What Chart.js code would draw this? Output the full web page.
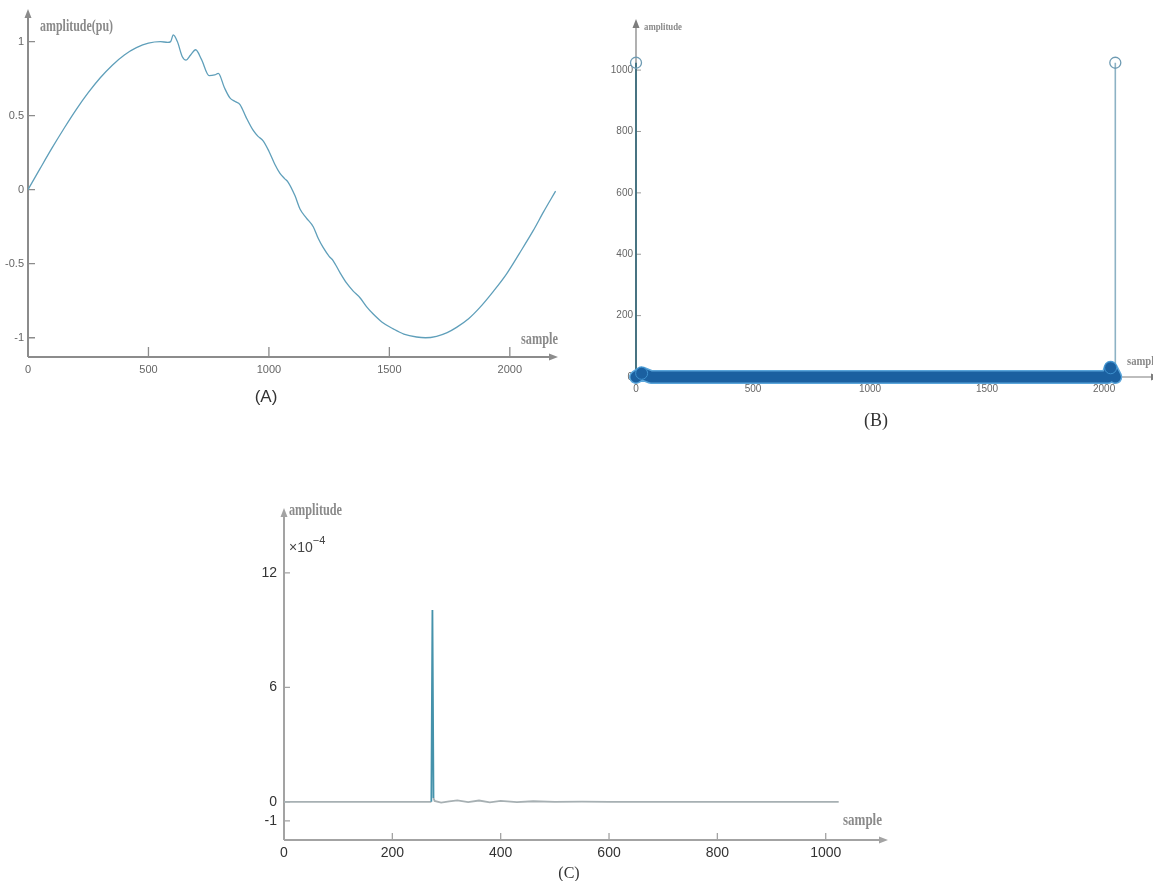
<!doctype html>
<html lang="en">
<head>
<meta charset="utf-8" />
<title>Signal, FFT and spectrum</title>
<script src="https://cdn.jsdelivr.net/npm/chart.js"></script>
<style>
  * { box-sizing: border-box; }
  html, body { margin: 0; background: #fff; }
  .page { position: relative; width: 1153px; height: 881px; overflow: hidden; background: #fff; }
  canvas { position: absolute; }
  .cap { position: absolute; color: #333; transform: translate(-50%, -50%); white-space: nowrap; }
  #capA { left: 266px; top: 397px; font: 17px 'Liberation Sans Narrow', 'Liberation Sans', Arial, sans-serif; }
  #capB { left: 876px; top: 420px; font: 18px 'Liberation Serif', 'DejaVu Serif', serif; }
  #capC { left: 569px; top: 873px; font: 16px 'Liberation Serif', 'DejaVu Serif', serif; }
  #expC { position: absolute; left: 289px; top: 536px; font: 14px 'Liberation Sans', Arial, sans-serif; color: #444; }
  #expC sup { font-size: 11px; position: relative; top: -2px; }
</style>
</head>
<body>
<div class="page">
  <canvas id="chartA" width="590" height="420" style="left:0;top:0;width:590px;height:420px"></canvas>
  <canvas id="chartB" width="563" height="430" style="left:590px;top:0;width:563px;height:430px"></canvas>
  <canvas id="chartC" width="680" height="400" style="left:240px;top:480px;width:680px;height:400px"></canvas>
  <div class="cap" id="capA">(A)</div>
  <div class="cap" id="capB">(B)</div>
  <div class="cap" id="capC">(C)</div>
  <div id="expC">&times;10<sup>&minus;4</sup></div>
</div>
<script>
// (A) disturbed sine, amplitude in pu
const aX = [0, 50, 100, 150, 200, 250, 300, 350, 400, 450, 500, 550,
  580, 592, 603, 620, 640, 656, 675, 696, 720, 752,
  775, 790, 815, 838, 860, 880, 905, 935, 955, 976,
  1000, 1025, 1046, 1065, 1080, 1108, 1129, 1155, 1184, 1205,
  1225, 1250, 1267, 1295, 1322, 1350, 1378, 1405, 1433, 1470,
  1516, 1560, 1613, 1650, 1696, 1740, 1779, 1830, 1876, 1930,
  1986, 2040, 2097, 2140, 2190];
const aY = [0, 0.142, 0.282, 0.415, 0.541, 0.655, 0.756, 0.841, 0.910, 0.959, 0.990, 1.0,
  0.995, 1.0, 1.045, 1.0, 0.9, 0.875, 0.91, 0.945, 0.88, 0.77,
  0.775, 0.785, 0.69, 0.62, 0.595, 0.575, 0.49, 0.40, 0.36, 0.33,
  0.26, 0.17, 0.11, 0.075, 0.05, -0.04, -0.13, -0.19, -0.25, -0.33,
  -0.39, -0.45, -0.48, -0.56, -0.63, -0.685, -0.73, -0.79, -0.84, -0.895,
  -0.94, -0.975, -0.995, -1.0, -0.99, -0.965, -0.93, -0.87, -0.795, -0.69,
  -0.57, -0.43, -0.277, -0.15, -0.01];
const aTicksX = [0, 500, 1000, 1500, 2000];
const aTicksY = [-1, -0.5, 0, 0.5, 1];

// (B) FFT stems: two large bins and a band of near-zero bins
const bStemX = [0, 2048];
const bStemY = [1024, 1024];
const bBandX = [0, 24, 64, 96, 128, 160, 192, 224, 256, 288, 320, 352, 384, 416, 448, 480,
  512, 544, 576, 608, 640, 672, 704, 736, 768, 800, 832, 864, 896, 928, 960, 992,
  1024, 1056, 1088, 1120, 1152, 1184, 1216, 1248, 1280, 1312, 1344, 1376, 1408, 1440, 1472, 1504,
  1536, 1568, 1600, 1632, 1664, 1696, 1728, 1760, 1792, 1824, 1856, 1888, 1920, 1952, 1984, 2016,
  2028, 2048];
const bBandY = [0, 12, 0, 0, 0, 0, 0, 0, 0, 0, 0, 0, 0, 0, 0, 0,
  0, 0, 0, 0, 0, 0, 0, 0, 0, 0, 0, 0, 0, 0, 0, 0,
  0, 0, 0, 0, 0, 0, 0, 0, 0, 0, 0, 0, 0, 0, 0, 0,
  0, 0, 0, 0, 0, 0, 0, 0, 0, 0, 0, 0, 0, 0, 0, 0,
  30, 0];
const bTicksX = [0, 500, 1000, 1500, 2000];
const bTicksY = [0, 200, 400, 600, 800, 1000];

// (C) spectrum detail, values in units of 1e-4
const cX = [0, 272, 274, 276, 278, 290, 305, 320, 340, 360, 380, 400, 430, 460, 500, 550, 600, 700, 800, 900, 1024];
const cY = [0, 0, 10.05, 0.2, 0.05, -0.04, 0.02, 0.08, -0.02, 0.07, -0.03, 0.05, -0.02, 0.03, 0, 0.01, 0, 0, 0, 0, 0];
const cTicksX = [0, 200, 400, 600, 800, 1000];
const cTicksY = [-1, 0, 6, 12];

const pts = (xs, ys) => xs.map((x, i) => ({ x, y: ys[i] }));

// axis lines with arrows and inward tick marks, plus axis names
const axesPlugin = {
  id: 'axes',
  beforeDatasetsDraw(chart, args, o) {
    const { ctx, chartArea: a, scales: { x, y } } = chart;
    ctx.save();
    ctx.strokeStyle = o.color;
    ctx.fillStyle = o.color;
    ctx.lineWidth = o.width;
    ctx.beginPath();
    ctx.moveTo(a.left, a.bottom);
    ctx.lineTo(a.left, o.yTip + 6);
    ctx.moveTo(a.left, a.bottom);
    ctx.lineTo(o.xTip - 6, a.bottom);
    ctx.stroke();
    ctx.beginPath();
    ctx.moveTo(a.left, o.yTip);
    ctx.lineTo(a.left - 3.5, o.yTip + 9);
    ctx.lineTo(a.left + 3.5, o.yTip + 9);
    ctx.closePath();
    ctx.moveTo(o.xTip, a.bottom);
    ctx.lineTo(o.xTip - 9, a.bottom - 3.5);
    ctx.lineTo(o.xTip - 9, a.bottom + 3.5);
    ctx.closePath();
    ctx.fill();
    ctx.lineWidth = o.tickWidth;
    ctx.strokeStyle = o.tickColor;
    ctx.beginPath();
    x.ticks.forEach(t => {
      if (t.value === 0) return;
      const px = x.getPixelForValue(t.value);
      ctx.moveTo(px, a.bottom);
      ctx.lineTo(px, a.bottom - o.tickLenX);
    });
    y.ticks.forEach(t => {
      const py = y.getPixelForValue(t.value);
      if (Math.abs(py - a.bottom) < 2) return;
      ctx.moveTo(a.left, py);
      ctx.lineTo(a.left + o.tickLenY, py);
    });
    ctx.stroke();
    ctx.restore();
  },
  afterDraw(chart, args, o) {
    const { ctx } = chart;
    ctx.save();
    ctx.fillStyle = o.labelColor;
    ctx.textBaseline = 'middle';
    ctx.textAlign = 'left';
    o.labels.forEach(l => {
      ctx.font = l.font;
      const w = ctx.measureText(l.text).width;
      const sx = l.width ? l.width / w : 1;
      ctx.save();
      ctx.translate(l.x, l.y);
      ctx.scale(sx, 1);
      ctx.fillText(l.text, 0, 0);
      ctx.restore();
    });
    ctx.restore();
  }
};

const serif = "bold 16px 'Liberation Serif', 'DejaVu Serif', serif";

function fixedScale(ticks, min, max, font, color, pad, size, isY) {
  return {
    type: 'linear',
    min, max,
    afterBuildTicks: s => { s.ticks = ticks.map(v => ({ value: v })); },
    afterFit: s => { if (isY) s.width = size; else s.height = size; },
    grid: { display: false, drawTicks: false },
    border: { display: false },
    ticks: { font, color, padding: pad, autoSkip: false, maxRotation: 0, callback: v => String(v) }
  };
}

const base = {
  responsive: false,
  animation: false,
  events: [],
  plugins: { legend: { display: false }, tooltip: { enabled: false } }
};

new Chart(document.getElementById('chartA'), {
  type: 'line',
  data: {
    datasets: [{
      data: pts(aX, aY),
      borderColor: '#5f9fba',
      borderWidth: 1.3,
      pointRadius: 0,
      cubicInterpolationMode: 'monotone'
    }]
  },
  options: {
    ...base,
    layout: { padding: { left: 0, right: 32, top: 12, bottom: 43 } },
    scales: {
      x: fixedScale(aTicksX, 0, 2200, { family: "'Liberation Sans Narrow', 'Liberation Sans', Arial", size: 11 }, '#666', 6, 20, false),
      y: fixedScale(aTicksY, -1.13, 1.2, { family: "'Liberation Sans Narrow', 'Liberation Sans', Arial", size: 11 }, '#666', 4, 28, true)
    },
    plugins: {
      ...base.plugins,
      axes: {
        color: '#8c8c8c', width: 2, tickColor: '#8c8c8c', tickWidth: 1.3,
        tickLenX: 10, tickLenY: 7, yTip: 9, xTip: 558,
        labelColor: '#8a8a8a',
        labels: [
          { text: 'amplitude(pu)', x: 40, y: 27, font: serif, width: 73 },
          { text: 'sample', x: 521, y: 340, font: serif, width: 37 }
        ]
      }
    }
  },
  plugins: [axesPlugin]
});

const stemData = [];
bStemX.forEach((x, i) => {
  stemData.push({ x, y: 0 }, { x, y: bStemY[i] }, { x, y: null });
});

// lower dataset index is painted on top
new Chart(document.getElementById('chartB'), {
  type: 'line',
  data: {
    datasets: [
      {
        data: pts(bStemX, bStemY),
        showLine: false,
        pointRadius: 5.5,
        pointBackgroundColor: 'rgba(0,0,0,0)',
        pointBorderColor: '#6e9bb3',
        pointBorderWidth: 1.3,
        clip: false
      },
      {
        data: pts(bBandX, bBandY),
        borderColor: '#1b60a0',
        borderWidth: 11,
        borderCapStyle: 'round',
        borderJoinStyle: 'round',
        pointRadius: c => (c.raw && c.raw.y > 0) ? 6 : 0,
        pointBackgroundColor: '#1b60a0',
        pointBorderColor: '#3f92cf',
        pointBorderWidth: 1,
        clip: false
      },
      {
        // light outer edge of the merged near-zero markers
        data: pts(bBandX, bBandY),
        borderColor: '#5aa5da',
        borderWidth: 14,
        borderCapStyle: 'round',
        borderJoinStyle: 'round',
        pointRadius: 0,
        clip: false
      },
      {
        data: stemData,
        spanGaps: false,
        pointRadius: 0,
        borderWidth: 1.6,
        segment: { borderColor: c => c.p0.parsed.x === 0 ? '#2e6576' : '#8db2c4' },
        clip: false
      }
    ]
  },
  options: {
    ...base,
    layout: { padding: { left: 0, right: 0, top: 21, bottom: 33 } },
    scales: {
      x: fixedScale(bTicksX, 0, 2180, { family: "'Liberation Sans Narrow', 'Liberation Sans', Arial", size: 10 }, '#666', 6, 20, false),
      y: fixedScale(bTicksY, 0, 1160, { family: "'Liberation Sans Narrow', 'Liberation Sans', Arial", size: 10 }, '#666', 3, 46, true)
    },
    plugins: {
      ...base.plugins,
      axes: {
        color: '#7d7d7d', width: 1.2, tickColor: '#9a9a9a', tickWidth: 1,
        tickLenX: 5, tickLenY: 5, yTip: 19, xTip: 570,
        labelColor: '#8a8a8a',
        labels: [
          { text: 'amplitude', x: 54, y: 27, font: "bold 11px 'Liberation Serif', 'DejaVu Serif', serif", width: 38 },
          { text: 'sample', x: 537, y: 362, font: "bold 12px 'Liberation Serif', 'DejaVu Serif', serif", width: 32 }
        ]
      }
    }
  },
  plugins: [axesPlugin]
});

new Chart(document.getElementById('chartC'), {
  type: 'line',
  data: {
    datasets: [{
      data: pts(cX, cY),
      borderWidth: 1.8,
      pointRadius: 0,
      tension: 0,
      segment: {
        borderColor: c => (Math.abs(c.p0.parsed.y) > 0.5 || Math.abs(c.p1.parsed.y) > 0.5) ? '#4592ab' : '#a7b0b3'
      }
    }]
  },
  options: {
    ...base,
    layout: { padding: { left: 0, right: 32, top: 26, bottom: 16 } },
    scales: {
      x: fixedScale(cTicksX, 0, 1115, { family: "'Liberation Sans', Arial", size: 14 }, '#333', 5, 24, false),
      y: fixedScale(cTicksY, -2, 15.5, { family: "'Liberation Sans', Arial", size: 14 }, '#333', 7, 44, true)
    },
    plugins: {
      ...base.plugins,
      axes: {
        color: '#a3a3a3', width: 2, tickColor: '#a3a3a3', tickWidth: 1.3,
        tickLenX: 7, tickLenY: 6, yTip: 28, xTip: 648,
        labelColor: '#8a8a8a',
        labels: [
          { text: 'amplitude', x: 49, y: 31, font: serif, width: 53 },
          { text: 'sample', x: 603, y: 341, font: serif, width: 39 }
        ]
      }
    }
  },
  plugins: [axesPlugin]
});
</script>
</body>
</html>
